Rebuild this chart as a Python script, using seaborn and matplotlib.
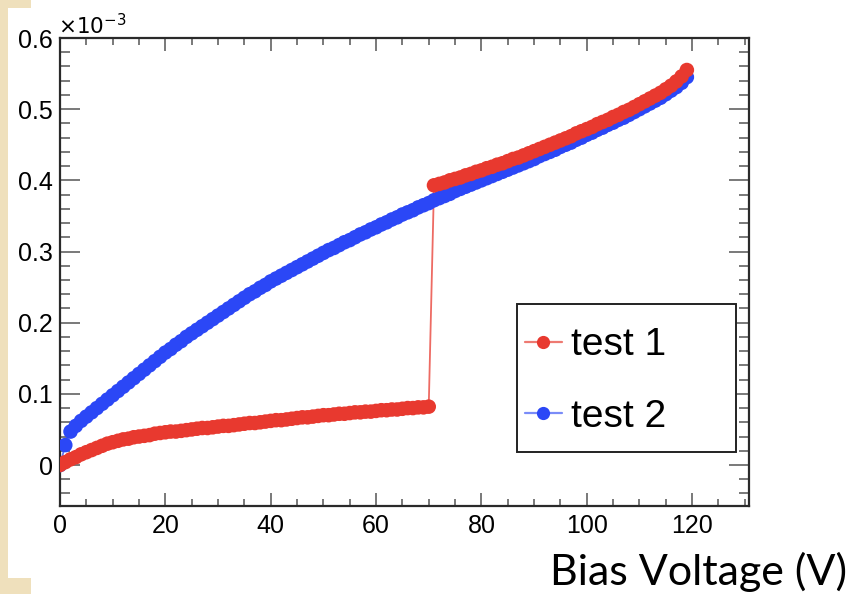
import numpy as np
import pandas as pd
import matplotlib
matplotlib.use("Agg")
import matplotlib.pyplot as plt
from matplotlib.lines import Line2D
from matplotlib.patches import Rectangle
from matplotlib.ticker import MultipleLocator, FuncFormatter
import seaborn as sns

# ---------------- data (current in units of 1e-3) ----------------
voltage = list(range(0, 120))

test1 = [
    0.000, 0.004, 0.008, 0.011, 0.015, 0.018, 0.021, 0.024, 0.027, 0.030,
    0.032, 0.034, 0.036, 0.037, 0.039, 0.040, 0.041, 0.042, 0.044, 0.045,
    0.046, 0.047, 0.047, 0.048, 0.049, 0.050, 0.051, 0.052, 0.052, 0.053,
    0.054, 0.055, 0.055, 0.056, 0.057, 0.058, 0.059, 0.059, 0.060, 0.061,
    0.062, 0.063, 0.063, 0.064, 0.065, 0.066, 0.067, 0.067, 0.068, 0.069,
    0.070, 0.070, 0.071, 0.072, 0.072, 0.073, 0.074, 0.074, 0.075, 0.075,
    0.076, 0.077, 0.077, 0.078, 0.078, 0.079, 0.080, 0.080, 0.081, 0.081,
    0.082,
    0.393, 0.395, 0.397, 0.400, 0.402, 0.404, 0.407, 0.409, 0.412,
    0.414, 0.417, 0.419, 0.422, 0.424, 0.427, 0.430, 0.432, 0.435, 0.438,
    0.441, 0.444, 0.447, 0.450, 0.453, 0.456, 0.459, 0.462, 0.466, 0.469,
    0.472, 0.475, 0.479, 0.482, 0.485, 0.489, 0.492, 0.496, 0.499, 0.503,
    0.507, 0.511, 0.515, 0.519, 0.523, 0.528, 0.533, 0.539, 0.546, 0.555,
]

test2 = [
    0.000, 0.028, 0.047, 0.055, 0.062, 0.068, 0.074, 0.080, 0.086, 0.092,
    0.098, 0.104, 0.110, 0.116, 0.122, 0.128, 0.134, 0.140, 0.146, 0.152,
    0.158, 0.163, 0.169, 0.174, 0.180, 0.185, 0.190, 0.195, 0.200, 0.205,
    0.210, 0.215, 0.220, 0.225, 0.230, 0.235, 0.240, 0.244, 0.249, 0.253,
    0.258, 0.262, 0.266, 0.270, 0.274, 0.278, 0.282, 0.286, 0.290, 0.294,
    0.298, 0.302, 0.305, 0.309, 0.313, 0.316, 0.320, 0.324, 0.327, 0.331,
    0.334, 0.338, 0.341, 0.345, 0.348, 0.352, 0.355, 0.358, 0.362, 0.365,
    0.368, 0.372, 0.375, 0.378, 0.381, 0.385, 0.388, 0.391, 0.394, 0.397,
    0.400, 0.403, 0.406, 0.409, 0.412, 0.415, 0.418, 0.421, 0.424, 0.427,
    0.430, 0.434, 0.437, 0.440, 0.443, 0.447, 0.450, 0.453, 0.457, 0.460,
    0.464, 0.467, 0.471, 0.474, 0.478, 0.481, 0.485, 0.488, 0.492, 0.496,
    0.500, 0.504, 0.508, 0.512, 0.516, 0.521, 0.526, 0.531, 0.537, 0.545,
]

series_names = ["test 2", "test 1"]   # draw order: test 1 on top
x_ticks = [0, 20, 40, 60, 80, 100, 120]
y_ticks = [0.0, 0.1, 0.2, 0.3, 0.4, 0.5, 0.6]
x_label = "Bias Voltage (V)"

RED = "#E8392F"
BLUE = "#2B47F6"
palette = {"test 1": RED, "test 2": BLUE}

df = pd.concat([
    pd.DataFrame({"V": voltage, "I": test2, "series": "test 2"}),
    pd.DataFrame({"V": voltage, "I": test1, "series": "test 1"}),
], ignore_index=True)

# ---------------- style ----------------
sns.set_theme(style="ticks")
plt.rcParams["font.family"] = ["Liberation Sans", "DejaVu Sans"]
plt.rcParams["xtick.labelsize"] = 18
plt.rcParams["ytick.labelsize"] = 18
plt.rcParams["text.color"] = "black"

W, H = 850, 594
fig = plt.figure(figsize=(W / 100, H / 100), dpi=100)
fig.patch.set_facecolor("white")

L, R, T, B = 60, 749, 38, 506
ax = fig.add_axes([L / W, 1 - B / H, (R - L) / W, (B - T) / H])

for name in series_names:
    sub = df[df["series"] == name]
    sns.lineplot(data=sub, x="V", y="I", color=palette[name], lw=1.3,
                 alpha=0.75, ax=ax, legend=False, estimator=None, sort=False)
    sns.scatterplot(data=sub, x="V", y="I", color=palette[name], s=110,
                    edgecolor="none", linewidth=0, ax=ax, legend=False,
                    zorder=3)

ax.set_xlim(0, 130.8)
ax.set_ylim(-0.0576, 0.6)
ax.set_xlabel("")
ax.set_ylabel("")

ax.set_xticks(x_ticks)
ax.set_yticks(y_ticks)
ax.xaxis.set_minor_locator(MultipleLocator(5))
ax.yaxis.set_minor_locator(MultipleLocator(0.02))
ax.yaxis.set_major_formatter(FuncFormatter(lambda v, p: "0" if abs(v) < 1e-9 else f"{v:.1f}"))
ax.xaxis.set_major_formatter(FuncFormatter(lambda v, p: f"{v:.0f}"))

for s in ax.spines.values():
    s.set_visible(True)
    s.set_color("#2a2a2a")
    s.set_linewidth(1.6)

ax.tick_params(axis="both", which="both", direction="in", top=True, right=True,
               color="#555555", width=1.1)
ax.tick_params(axis="both", which="major", labelsize=18, labelcolor="black")
ax.tick_params(axis="y", which="major", length=14.4, pad=5)
ax.tick_params(axis="y", which="minor", length=7.2)
ax.tick_params(axis="x", which="major", length=9.4, pad=6)
ax.tick_params(axis="x", which="minor", length=5)

ax.text(-0.003, 0.998, r"$\times10^{-3}$", transform=ax.transAxes, ha="left",
        va="bottom", fontsize=15.5, color="black")

# legend (frame drawn separately for exact size)
handles = [
    Line2D([], [], color="#EE7A72", lw=1.6, marker="o", ms=9.5,
           markerfacecolor=RED, markeredgecolor=RED, markeredgewidth=0),
    Line2D([], [], color="#7A8CF8", lw=1.6, marker="o", ms=9.5,
           markerfacecolor=BLUE, markeredgecolor=BLUE, markeredgewidth=0),
]
leg = ax.legend(handles, ["test 1", "test 2"], loc="center left",
                bbox_to_anchor=((517 - L) / (R - L), (B - 381) / (B - T)),
                fontsize=28, frameon=False, handlelength=0.95,
                handletextpad=0.25, borderpad=0.2, labelspacing=0.92,
                borderaxespad=0, labelcolor="black")

box = Rectangle(((517 - L) / (R - L), (B - 452) / (B - T)),
                (736 - 517) / (R - L), (452 - 304) / (B - T),
                transform=ax.transAxes, facecolor="white", edgecolor="#222222",
                linewidth=1.4, zorder=4)
ax.add_patch(box)
leg.set_zorder(5)

fig.text(847 / W, 1 - 585 / H, x_label, ha="right", va="baseline",
         fontsize=31, family=["Lato", "DejaVu Sans"], color="black")

# decorative beige strip on the left edge
beige = "#EFE0BC"
fig.patches.append(Rectangle((0, 0), 8 / W, 1, transform=fig.transFigure,
                             facecolor=beige, edgecolor="none", zorder=0))
fig.patches.append(Rectangle((0, 1 - 8 / H), 31 / W, 8 / H, transform=fig.transFigure,
                             facecolor=beige, edgecolor="none", zorder=0))
fig.patches.append(Rectangle((0, 0), 31 / W, 16 / H, transform=fig.transFigure,
                             facecolor=beige, edgecolor="none", zorder=0))

fig.savefig("out.png", dpi=100)
